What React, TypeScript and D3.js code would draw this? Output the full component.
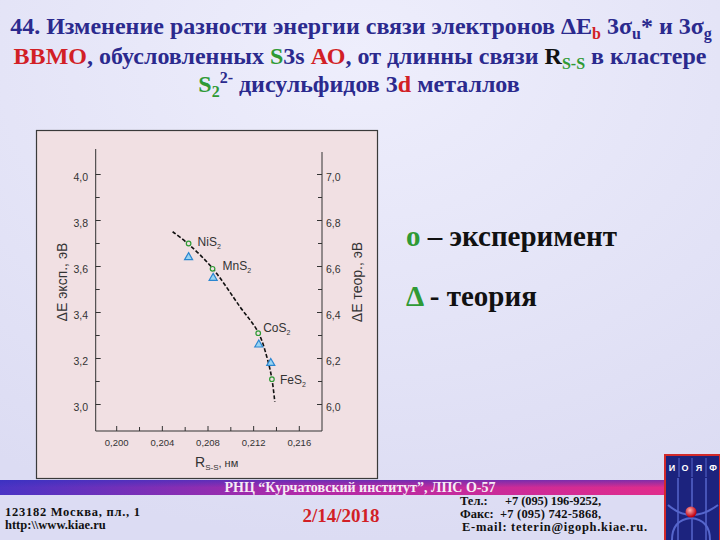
import React from "react";
import * as d3 from "d3";

// ---- data ----
const compounds = ["Ni", "Mn", "Co", "Fe"];
const rExp = [0.2063, 0.2084, 0.2124, 0.2136];
const eExp = [3.70, 3.59, 3.31, 3.11];
const rTheor = [0.2063, 0.20845, 0.21245, 0.2135];
const eTheor = [6.64, 6.55, 6.26, 6.18];
const fitR = [0.2049, 0.2063, 0.2084, 0.2108, 0.2124, 0.21315, 0.2136, 0.21385];
const fitE = [3.751, 3.697, 3.592, 3.425, 3.314, 3.208, 3.111, 3.012];
const xMajor = [0.2, 0.204, 0.208, 0.212, 0.216];
const xMinor = [0.202, 0.206, 0.21, 0.214];
const yLeftTicks = [3.0, 3.2, 3.4, 3.6, 3.8, 4.0];
const yLeftMinor = [3.1, 3.3, 3.5, 3.7, 3.9];
const yRightTicks = [6.0, 6.2, 6.4, 6.6, 6.8, 7.0];
const yRightMinor = [6.1, 6.3, 6.5, 6.7, 6.9];

const labelOffsets = [
  [9, 2],
  [10, 1],
  [5, -1],
  [8, 5],
];

const fmt = (v: number, d: number) => v.toFixed(d).replace(".", ",");

export default function App() {
  const x = d3.scaleLinear().domain([0.2, 0.216]).range([116.7, 299.3]);
  const yL = d3.scaleLinear().domain([3.0, 4.0]).range([404.5, 174.5]);
  const yR = d3.scaleLinear().domain([6.0, 7.0]).range([404.5, 174.5]);
  const axL = 95.7, axR = 322, axB = 431;

  const fitLine = d3
    .line<number>()
    .x((_, i) => x(fitR[i]))
    .y((_, i) => yL(fitE[i]))
    .curve(d3.curveCatmullRom.alpha(0.5));

  const tri = d3.symbol().type(d3.symbolTriangle).size(28);

  const navy = "#2b2a8e";
  const red = "#d21f26";
  const green = "#2f9a35";
  const serif = "'Liberation Serif', 'Times New Roman', serif";
  const sans = "'Liberation Sans', Arial, sans-serif";

  return (
    <svg
      width={720}
      height={540}
      style={{ position: "absolute", left: 0, top: 0 }}
      xmlns="http://www.w3.org/2000/svg"
    >
      <defs>
        <radialGradient id="bg" cx="0.5" cy="0.1" r="0.9">
          <stop offset="0" stopColor="#eeeefc" />
          <stop offset="1" stopColor="#dcdcf3" />
        </radialGradient>
        <linearGradient id="band" x1="0" x2="1" y1="0" y2="0">
          <stop offset="0" stopColor="#4a34c4" />
          <stop offset="0.45" stopColor="#b02aa8" />
          <stop offset="1" stopColor="#e02c8c" />
        </linearGradient>
        <linearGradient id="bandV" x1="0" x2="0" y1="0" y2="1">
          <stop offset="0" stopColor="#3030c0" stopOpacity="0.55" />
          <stop offset="0.5" stopColor="#3030c0" stopOpacity="0" />
        </linearGradient>
        <radialGradient id="ball" cx="0.4" cy="0.35" r="0.6">
          <stop offset="0" stopColor="#ffb0b0" />
          <stop offset="1" stopColor="#c00010" />
        </radialGradient>
      </defs>
      <rect x={0} y={0} width={720} height={540} fill="url(#bg)" />

      {/* Title */}
      <g fontFamily={serif} fontWeight="bold" fontSize={24} fill={navy} textAnchor="middle">
        <text x={361} y={34}>
          <tspan>44. Изменение разности энергии связи электронов </tspan>
          <tspan>ΔE</tspan>
          <tspan fill={red} fontSize={16} dy={5}>b</tspan>
          <tspan dy={-5}> 3σ</tspan>
          <tspan fontSize={16} dy={5}>u</tspan>
          <tspan dy={-5}>* и 3σ</tspan>
          <tspan fontSize={16} dy={5}>g</tspan>
        </text>
        <text x={360} y={64}>
          <tspan fill={red}>ВВМО</tspan>
          <tspan>, обусловленных </tspan>
          <tspan fill={green}>S</tspan>
          <tspan>3s </tspan>
          <tspan fill={red}>АО</tspan>
          <tspan>, от длинны связи </tspan>
          <tspan fill="#111">R</tspan>
          <tspan fill={green} fontSize={16} dy={5}>S-S</tspan>
          <tspan dy={-5}> в кластере</tspan>
        </text>
        <text x={359} y={92}>
          <tspan fill={green}>S</tspan>
          <tspan fill={green} fontSize={16} dy={5}>2</tspan>
          <tspan fontSize={16} dy={-14}>2-</tspan>
          <tspan dy={9}> дисульфидов 3</tspan>
          <tspan fill={red}>d</tspan>
          <tspan> металлов</tspan>
        </text>
      </g>

      {/* Chart panel */}
      <rect x={36.5} y={130.5} width={341} height={348} fill="#f1e0e3" stroke="#3a3a3a" strokeWidth={1.2} />

      {/* axes */}
      <g stroke="#333" strokeWidth={1} fill="none">
        <line x1={axL} x2={axL} y1={149} y2={axB} />
        <line x1={axR} x2={axR} y1={152} y2={axB} />
        <line x1={axL} x2={axR} y1={axB} y2={axB} />
        {xMajor.map((t) => (
          <line key={"xm" + t} x1={x(t)} x2={x(t)} y1={axB} y2={axB - 5} />
        ))}
        {xMinor.map((t) => (
          <line key={"xn" + t} x1={x(t)} x2={x(t)} y1={axB} y2={axB - 4} />
        ))}
        {yLeftTicks.map((t) => (
          <line key={"yl" + t} x1={axL} x2={axL + 5} y1={yL(t)} y2={yL(t)} />
        ))}
        {yLeftMinor.map((t) => (
          <line key={"yln" + t} x1={axL} x2={axL + 4} y1={yL(t)} y2={yL(t)} />
        ))}
        {yRightTicks.map((t) => (
          <line key={"yr" + t} x1={axR} x2={axR - 5} y1={yR(t)} y2={yR(t)} />
        ))}
        {yRightMinor.map((t) => (
          <line key={"yrn" + t} x1={axR} x2={axR - 4} y1={yR(t)} y2={yR(t)} />
        ))}
      </g>
      <g fontFamily={sans} fontSize={10.5} fill="#333">
        {yLeftTicks.map((t) => (
          <text key={"tl" + t} x={88} y={yL(t) + 6.5} textAnchor="end">
            {fmt(t, 1)}
          </text>
        ))}
        {yRightTicks.map((t) => (
          <text key={"tr" + t} x={326} y={yR(t) + 6.5} textAnchor="start">
            {fmt(t, 1)}
          </text>
        ))}
        {xMajor.map((t) => (
          <text key={"tx" + t} x={x(t)} y={446} textAnchor="middle" fontSize={9.5}>
            {fmt(t, 3)}
          </text>
        ))}
      </g>
      {/* axis titles */}
      <g fontFamily={sans} fill="#333">
        <text x={195} y={467} fontSize={14}>
          R<tspan fontSize={8} dy={3}>S-S</tspan>
          <tspan fontSize={11} dy={-3}>, нм</tspan>
        </text>
        <text transform="translate(67,282) rotate(-90)" textAnchor="middle" fontSize={14}>
          ΔE эксп., эВ
        </text>
        <text transform="translate(362,282) rotate(-90)" textAnchor="middle" fontSize={14}>
          ΔE теор., эВ
        </text>
      </g>

      {/* fit curve */}
      <path
        d={fitLine(fitR) || ""}
        fill="none"
        stroke="#111"
        strokeWidth={1.6}
        strokeDasharray="4,2"
      />

      {/* theory triangles */}
      {rTheor.map((r, i) => (
        <path
          key={"t" + i}
          d={tri() || ""}
          transform={`translate(${x(r)},${yR(eTheor[i])})`}
          fill="#9ad4f2"
          stroke="#2a86d0"
          strokeWidth={1.2}
        />
      ))}
      {/* experiment circles */}
      {rExp.map((r, i) => (
        <circle
          key={"c" + i}
          cx={x(r)}
          cy={yL(eExp[i])}
          r={2.3}
          fill="#f1e0e3"
          stroke={green}
          strokeWidth={1.2}
        />
      ))}
      {/* compound labels */}
      <g fontFamily={sans} fontSize={12} fill="#333">
        {rExp.map((r, i) => (
          <text key={"l" + i} x={x(r) + labelOffsets[i][0]} y={yL(eExp[i]) + labelOffsets[i][1]}>
            {compounds[i]}S
            <tspan fontSize={7} dy={3}>2</tspan>
          </text>
        ))}
      </g>

      {/* legend */}
      <g fontFamily={serif} fontWeight="bold" fontSize={29} fill="#111">
        <text x={406} y={246}>
          <tspan fill={green}>о</tspan>
          <tspan> – эксперимент</tspan>
        </text>
        <text x={406} y={306}>
          <tspan fill={green}>Δ</tspan>
          <tspan> - теория</tspan>
        </text>
      </g>

      {/* footer band */}
      <rect x={0} y={480} width={664} height={15} fill="url(#band)" />
      <rect x={0} y={480} width={664} height={15} fill="url(#bandV)" />
      <text x={360} y={492} fontFamily={serif} fontWeight="bold" fontSize={14} fill="#f6ecf6" textAnchor="middle">
        РНЦ “Курчатовский институт”, ЛПС О-57
      </text>
      <g fontFamily={serif} fontWeight="bold" fontSize={12.5} fill="#111">
        <text x={5} y={516} textLength={135} lengthAdjust="spacing">123182 Москва, пл., 1</text>
        <text x={5} y={529}>http:\\www.kiae.ru</text>
      </g>
      <text x={341} y={522} fontFamily={serif} fontWeight="bold" fontSize={19} fill={red} textAnchor="middle">
        2/14/2018
      </text>
      <g fontFamily={serif} fontWeight="bold" fontSize={12.5} fill="#111">
        <text x={460} y={505}>Тел.:</text>
        <text x={505} y={505} textLength={96} lengthAdjust="spacing">+7 (095) 196-9252,</text>
        <text x={460} y={518}>Факс:</text>
        <text x={500} y={518} textLength={101} lengthAdjust="spacing">+7 (095) 742-5868,</text>
        <text x={462} y={531} textLength={185} lengthAdjust="spacing">E-mail: teterin@igoph.kiae.ru.</text>
      </g>

      {/* logo */}
      <g>
        <rect x={665} y={455} width={55} height={90} fill="#1c237e" stroke="#d22a2a" strokeWidth={2} />
        {[678, 692, 706].map((lx) => (
          <line key={lx} x1={lx} x2={lx} y1={456} y2={540} stroke="#5666cc" strokeWidth={1.5} />
        ))}
        <path d="M668 505 Q691 525 718 505" fill="none" stroke="#5666cc" strokeWidth={2} />
        <path d="M672 540 Q672 520 691 518 Q710 520 710 540" fill="none" stroke="#5666cc" strokeWidth={2} />
        <rect x={666} y={456} width={53} height={22} fill="#1c237e" />
        <g fontFamily={sans} fontWeight="bold" fontSize={9} fill="#fff" textAnchor="middle">
          <text x={672} y={471}>И</text>
          <text x={685} y={471}>О</text>
          <text x={699} y={471}>Я</text>
          <text x={713} y={471}>Ф</text>
        </g>
        {[679, 692, 706].map((lx) => (
          <line key={"s" + lx} x1={lx} x2={lx} y1={458} y2={477} stroke="#5666cc" strokeWidth={1} />
        ))}
        <circle cx={691} cy={512} r={5.5} fill="url(#ball)" />
      </g>
    </svg>
  );
}
